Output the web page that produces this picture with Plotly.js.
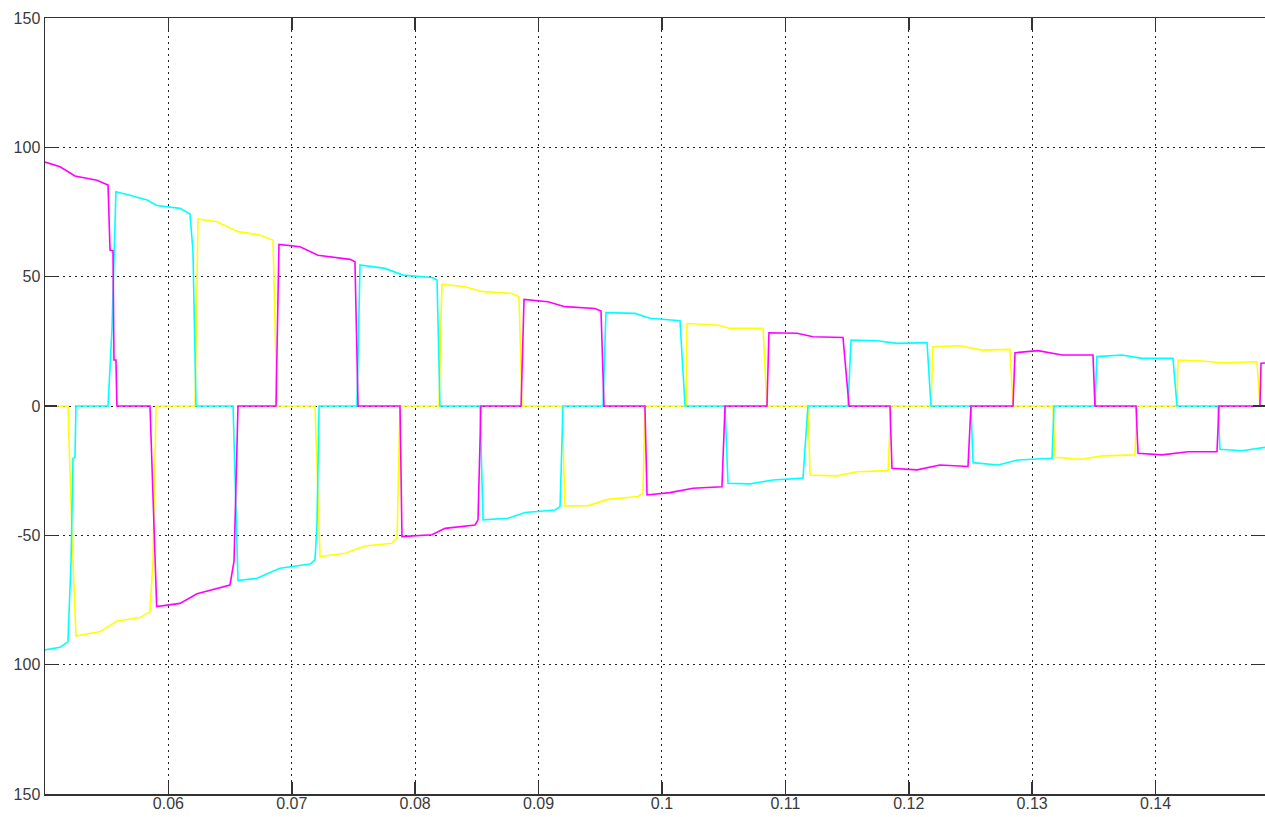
<!DOCTYPE html>
<html>
<head>
<meta charset="utf-8">
<script src="https://cdn.plot.ly/plotly-3.0.1.min.js"></script>
<style>
html,body{margin:0;padding:0;background:#fff;}
#chart{width:1265px;height:817px;}
</style>
</head>
<body>
<div id="chart"></div>
<script>
// Time (s) and value arrays
var magentaT = [0.05000,0.05122,0.05243,0.05421,0.05511,0.05527,0.05551,0.05559,0.05575,0.05583,
  0.05851,0.05905,0.06094,0.06232,0.06499,0.06532,0.06564,
  0.06872,0.06896,0.07067,0.07212,0.07472,0.07512,0.07537,
  0.07877,0.07893,0.08136,0.08242,0.08485,0.08509,0.08533,
  0.08858,0.08882,0.09076,0.09214,0.09457,0.09506,0.09530,
  0.09862,0.09879,0.10065,0.10251,0.10486,0.10511,
  0.10851,0.10867,0.11094,0.11224,0.11467,0.11516,
  0.11848,0.11864,0.12067,0.12253,0.12480,0.12504,
  0.12845,0.12861,0.13047,0.13242,0.13493,0.13509,
  0.13842,0.13858,0.14052,0.14263,0.14498,0.14514,
  0.14846,0.14855,0.14887];
var magentaV = [94.3,92.5,88.9,87.3,85.4,60.3,60.0,17.8,17.8,0,
  0,-77.5,-76.3,-72.6,-69.2,-60.0,0,
  0,62.5,61.6,58.3,56.7,55.8,0,
  0,-50.5,-49.8,-47.3,-46.0,-44.0,0,
  0,41.2,40.3,38.4,37.7,36.7,0,
  0,-34.4,-33.5,-31.8,-31.2,0,
  0,28.3,28.1,26.8,26.5,0,
  0,-24.1,-24.7,-22.8,-23.4,0,
  0,20.6,21.4,19.7,19.7,0,
  0,-18.3,-18.9,-17.7,-17.7,0,
  0,16.5,16.6];

var cyanT = [0.05000,0.05122,0.05186,0.05211,0.05227,0.05243,0.05251,
  0.05511,0.05543,0.05575,0.05689,0.05827,0.05908,0.06094,0.06175,0.06199,0.06224,
  0.06524,0.06564,0.06718,0.06904,0.07148,0.07188,0.07204,0.07221,
  0.07528,0.07553,0.07755,0.07901,0.08136,0.08177,0.08201,
  0.08525,0.08550,0.08752,0.08890,0.09133,0.09174,0.09198,
  0.09522,0.09546,0.09781,0.09903,0.10146,0.10187,
  0.10511,0.10535,0.10713,0.10900,0.11143,0.11183,
  0.11508,0.11532,0.11743,0.11905,0.12148,0.12180,
  0.12504,0.12521,0.12723,0.12885,0.13161,0.13177,
  0.13509,0.13525,0.13728,0.13890,0.14141,0.14174,
  0.14506,0.14522,0.14700,0.14887];
var cyanV = [-94.3,-93.3,-91.1,-60.0,-20.2,-20.0,0,
  0,30.0,82.8,81.5,79.6,77.5,76.4,74.2,60.0,0,
  0,-67.5,-66.6,-62.7,-61.1,-59.5,-46.0,0,
  0,54.5,53.2,50.6,49.7,48.7,0,
  0,-44.0,-43.4,-41.2,-40.2,-38.9,0,
  0,36.1,35.8,33.9,33.0,0,
  0,-29.9,-30.1,-28.6,-27.9,0,
  0,25.5,25.2,24.2,24.5,0,
  0,-21.9,-22.8,-20.9,-20.2,0,
  0,19.1,19.7,18.4,18.4,0,
  0,-16.7,-17.3,-16.0];

var yellowT = [0.05000,0.05186,0.05219,0.05251,0.05446,0.05583,0.05770,0.05851,0.05875,0.05900,
  0.06216,0.06240,0.06394,0.06564,0.06742,0.06848,0.06880,
  0.07188,0.07229,0.07431,0.07593,0.07812,0.07853,0.07877,
  0.08193,0.08217,0.08404,0.08550,0.08785,0.08841,0.08866,
  0.09190,0.09214,0.09401,0.09563,0.09806,0.09846,0.09862,
  0.10195,0.10203,0.10446,0.10551,0.10819,0.10851,
  0.11183,0.11200,0.11418,0.11580,0.11832,0.11856,
  0.12180,0.12196,0.12415,0.12593,0.12820,0.12845,
  0.13169,0.13185,0.13404,0.13566,0.13833,0.13850,
  0.14174,0.14182,0.14376,0.14538,0.14822,0.14846,0.14887];
var yellowV = [0,0,-50.0,-88.9,-87.2,-83.1,-81.8,-79.5,-60.0,0,
  0,72.3,71.2,67.4,66.1,64.1,0,
  0,-58.2,-56.9,-54.1,-53.1,-51.1,0,
  0,47.1,46.1,44.2,43.5,42.2,0,
  0,-38.6,-38.5,-36.1,-35.0,-33.7,0,
  0,31.9,31.3,30.0,30.0,0,
  0,-26.7,-27.0,-25.4,-25.0,0,
  0,22.9,23.3,21.6,21.9,0,
  0,-19.8,-20.6,-19.3,-18.9,0,
  0,17.8,17.4,16.7,17.1,0,0];

var yTickVals = [-150,-100,-50,0,50,100,150];
var yTickText = ['150','100','-50','0','50','100','150'];
var xTickVals = [0.06,0.07,0.08,0.09,0.1,0.11,0.12,0.13,0.14];
var xTickText = ['0.06','0.07','0.08','0.09','0.1','0.11','0.12','0.13','0.14'];

function tr(x, y, c){
  return {x:x, y:y, type:'scatter', mode:'lines',
    line:{color:c, width:1.6, shape:'linear'}, hoverinfo:'skip', showlegend:false};
}
var data = [tr(yellowT,yellowV,'#ffff00'), tr(cyanT,cyanV,'#00ffff'), tr(magentaT,magentaV,'#ff00ff')];

var axisCommon = {
  showline:true, linecolor:'#333', linewidth:1.5, mirror:'ticks',
  ticks:'inside', ticklen:12, tickwidth:1.5, tickcolor:'#333',
  showgrid:true, gridcolor:'#222', gridwidth:1, griddash:'2px,4px',
  zeroline:false, tickmode:'array',
  tickfont:{family:'Liberation Sans, Arial, sans-serif', size:16, color:'#3a3a3a'}
};
var layout = {
  width:1265, height:817,
  margin:{l:45, r:0, t:18, b:23, pad:0},
  paper_bgcolor:'#ffffff', plot_bgcolor:'#ffffff',
  showlegend:false,
  xaxis:Object.assign({}, axisCommon, {range:[0.05,0.14887], tickvals:xTickVals, ticktext:xTickText, ticklabelstandoff:-6}),
  yaxis:Object.assign({}, axisCommon, {range:[-150,150], tickvals:yTickVals, ticktext:yTickText, ticklabelstandoff:0})
};
Plotly.newPlot('chart', data, layout, {staticPlot:true, displayModeBar:false});
</script>
</body>
</html>
